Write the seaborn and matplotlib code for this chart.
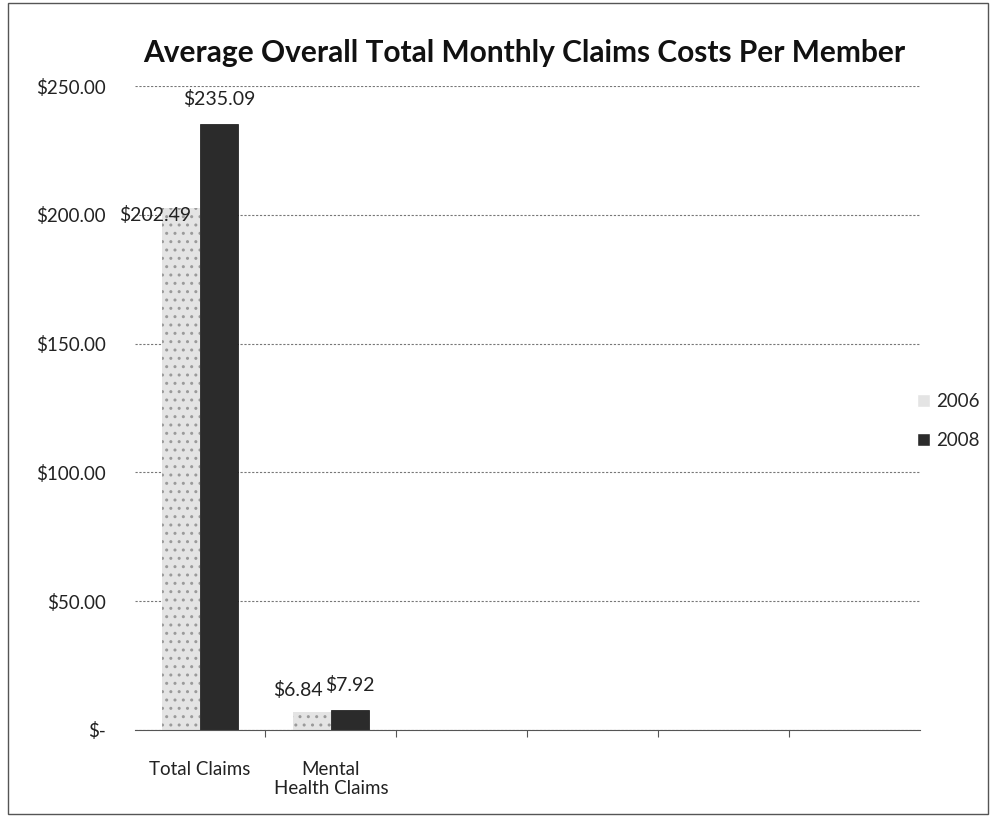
import pandas as pd
import matplotlib.pyplot as plt
import seaborn as sns
from matplotlib.ticker import FuncFormatter, FixedLocator
from matplotlib.patches import Rectangle

# Data
categories = ["Total Claims", "Mental\nHealth Claims"]
empty_slots = [" ", "  ", "   ", "    "]
years = ["2006", "2008"]
costs_2006 = [202.49, 6.84]
costs_2008 = [235.09, 7.92]

df = pd.DataFrame({
    "category": categories * 2,
    "year": [years[0]] * 2 + [years[1]] * 2,
    "cost": costs_2006 + costs_2008,
})

sns.set_style("white")
plt.rcParams["font.family"] = ["Lato", "DejaVu Sans"]

fig = plt.figure(figsize=(9.9, 8.16), dpi=100)
ax = fig.add_axes([0.136, 0.1054, 0.793, 0.7892])

sns.barplot(data=df, x="category", y="cost", hue="year", hue_order=years,
            order=categories + empty_slots, palette=["#e4e4e4", "#2b2b2b"],
            width=0.58, saturation=1, ax=ax, errorbar=None)

# stippled look for the 2006 bars
for p in ax.containers[0]:
    p.set_hatch("..")
    p.set_edgecolor("#9a9a9a")
    p.set_linewidth(0)
for p in ax.containers[1]:
    p.set_edgecolor("#111111")
    p.set_linewidth(0.5)

# value labels
offsets_2006 = [(-19, -5), (-10, 16)]
for bar, val, (dx, dy) in zip(ax.containers[0], costs_2006, offsets_2006):
    ax.annotate(f"${val:.2f}", (bar.get_x() + bar.get_width() / 2, bar.get_height()),
                xytext=(dx, dy), textcoords="offset points", ha="center", va="center",
                fontsize=14, color="#222222")
for bar, val in zip(ax.containers[1], costs_2008):
    ax.annotate(f"${val:.2f}", (bar.get_x() + bar.get_width() / 2, bar.get_height()),
                xytext=(0, 18), textcoords="offset points", ha="center", va="center",
                fontsize=14, color="#222222")

ax.set_ylim(0, 250)
ax.set_xlim(-0.5, len(categories) + len(empty_slots) - 0.5)
ax.set_yticks([0, 50, 100, 150, 200, 250])
ax.yaxis.set_major_formatter(FuncFormatter(lambda v, _: "$-" if v == 0 else f"${v:,.2f}"))
ax.grid(axis="y", linestyle=(0, (2, 1.5)), color="#777777", linewidth=0.8)
ax.set_axisbelow(True)

# category boundary ticks like Excel
ax.xaxis.set_minor_locator(FixedLocator([i + 0.5 for i in range(5)]))
ax.tick_params(axis="x", which="major", length=0, labelsize=13.5, colors="#222222", pad=22)
ax.tick_params(axis="x", which="minor", length=5, width=0.8, color="#555555", bottom=True)
ax.tick_params(axis="y", length=0, labelsize=13.5, colors="#222222", pad=21)

for s in ["top", "right", "left"]:
    ax.spines[s].set_visible(False)
ax.spines["bottom"].set_color("#555555")
ax.spines["bottom"].set_linewidth(0.8)

ax.set_xlabel("")
ax.set_ylabel("")

leg = ax.legend(loc="center left", bbox_to_anchor=(0.975, 0.48), frameon=False,
                fontsize=13.5, handlelength=0.7, handleheight=0.7, handletextpad=0.3,
                labelspacing=1.2)

fig.text(0.53, 0.935, "Average Overall Total Monthly Claims Costs Per Member",
         ha="center", va="center", fontsize=21.5, fontweight="bold", color="#111111")

# chart border
fig.patches.append(Rectangle((0.008, 0.003), 0.99, 0.993, transform=fig.transFigure,
                             fill=False, edgecolor="#555555", linewidth=1))

fig.savefig("out.png", dpi=100)
